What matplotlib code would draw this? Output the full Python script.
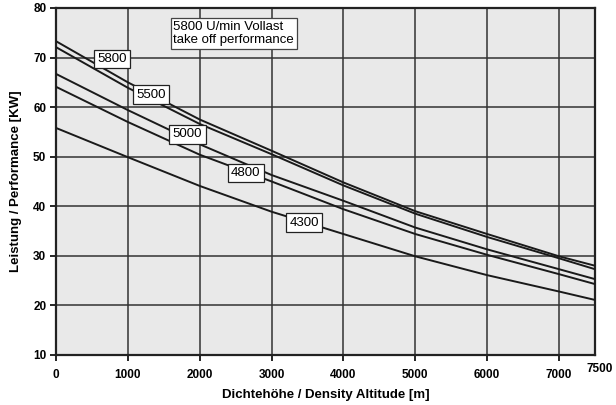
import matplotlib.pyplot as plt
import numpy as np

plt.rcParams['font.family'] = ['Liberation Sans', 'DejaVu Sans']

# Dichtehoehe [m]
alt = [0, 1000, 2000, 3000, 4000, 5000, 6000, 7000, 7500]

# Leistung [KW] pro Drehzahl
p5800 = [73.3, 65.0, 57.5, 51.2, 44.8, 39.0, 34.4, 29.9, 28.0]
p5500 = [72.1, 63.9, 56.6, 50.5, 44.2, 38.5, 33.8, 29.5, 27.3]
p5000 = [66.7, 59.4, 52.5, 46.3, 41.1, 35.7, 31.3, 27.3, 25.3]
p4800 = [64.1, 57.0, 50.4, 45.0, 39.4, 34.4, 30.2, 26.3, 24.3]
p4300 = [55.8, 49.9, 44.1, 38.9, 34.4, 29.9, 26.1, 22.8, 21.1]

rpm_labels = ['5800', '5500', '5000', '4800', '4300']
label_pos = [(780, 69.7), (1325, 62.5), (1830, 54.5), (2640, 46.7), (3450, 36.7)]

xticks = [0, 1000, 2000, 3000, 4000, 5000, 6000, 7000]
yticks = [10, 20, 30, 40, 50, 60, 70, 80]

fig = plt.figure(figsize=(6.16, 4.05), dpi=100)
ax = fig.add_axes([0.0909, 0.1235, 0.8751, 0.8568])
ax.set_facecolor('#e9e9e9')

for vals in [p5800, p5500, p5000, p4800, p4300]:
    ax.plot(alt, vals, color='#1a1a1a', lw=1.4, zorder=3)

for txt, (x, y) in zip(rpm_labels, label_pos):
    ax.text(x, y, txt, ha='center', va='center', fontsize=9.5, zorder=5,
            bbox=dict(boxstyle='square,pad=0.25', fc='white', ec='#222222', lw=0.9))

ax.text(1630, 77.4, '5800 U/min Vollast\ntake off performance', ha='left', va='top',
        fontsize=9.5, linespacing=1.15, zorder=5,
        bbox=dict(boxstyle='square,pad=0.2', fc='white', ec='#444444', lw=0.9))

ax.set_xlim(0, 7500)
ax.set_ylim(10, 80)
ax.set_xticks(xticks)
ax.set_yticks(yticks)
ax.grid(True, color='#333333', lw=1.1, zorder=1)
ax.set_axisbelow(True)
for s in ax.spines.values():
    s.set_linewidth(1.6)
    s.set_color('#222222')
ax.tick_params(direction='out', length=4, width=1.2, labelsize=8.5)
ax.tick_params(axis='x', pad=6)
ax.tick_params(axis='y', pad=3)
for lab in ax.get_xticklabels() + ax.get_yticklabels():
    lab.set_fontweight('bold')

# letzte Achsbeschriftung etwas hoeher, wie im Original
ax.text(0.985, -0.04, '7500', transform=ax.transAxes, ha='left', va='center',
        fontsize=8.5, fontweight='bold')

ax.set_xlabel('Dichtehöhe / Density Altitude [m]', fontsize=9.5, fontweight='bold', labelpad=6)
ax.set_ylabel('Leistung / Performance [KW]', fontsize=9.5, fontweight='bold', labelpad=8)

fig.savefig('out.png', dpi=100)
